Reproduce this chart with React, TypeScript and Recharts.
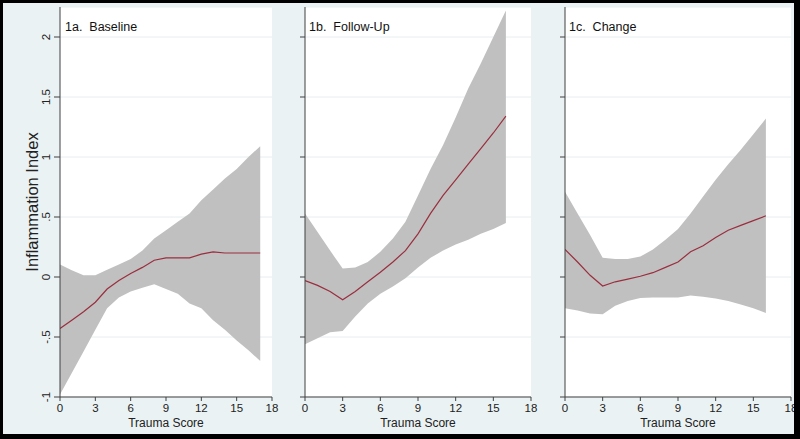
import React from "react";
import { ComposedChart, Area, Line, XAxis, YAxis, CartesianGrid, Label } from "recharts";

const xTicks = [0, 3, 6, 9, 12, 15, 18];
const yTicks = [-1, -0.5, 0, 0.5, 1, 1.5, 2];
const yTickLabels = ["-1", "-.5", "0", ".5", "1", "1.5", "2"];

const baselineX = [0, 1, 2, 3, 4, 5, 6, 7, 8, 9, 10, 11, 12, 13, 14, 15, 16, 17];
const baselineFit = [-0.43, -0.36, -0.29, -0.21, -0.1, -0.03, 0.03, 0.08, 0.14, 0.16, 0.16, 0.16, 0.19, 0.21, 0.2, 0.2, 0.2, 0.2];
const baselineHi = [0.105, 0.056, 0.014, 0.014, 0.06, 0.105, 0.15, 0.22, 0.32, 0.39, 0.46, 0.53, 0.64, 0.73, 0.82, 0.9, 1.0, 1.09];
const baselineLo = [-0.98, -0.8, -0.62, -0.44, -0.26, -0.17, -0.12, -0.09, -0.06, -0.1, -0.14, -0.22, -0.26, -0.36, -0.44, -0.53, -0.61, -0.7];

const followX = [0, 1, 2, 3, 4, 5, 6, 7, 8, 9, 10, 11, 12, 13, 14, 15, 16];
const followFit = [-0.03, -0.07, -0.12, -0.19, -0.12, -0.04, 0.04, 0.125, 0.22, 0.36, 0.53, 0.68, 0.81, 0.94, 1.07, 1.2, 1.34];
const followHi = [0.53, 0.375, 0.22, 0.07, 0.08, 0.125, 0.21, 0.32, 0.46, 0.68, 0.9, 1.1, 1.33, 1.57, 1.78, 2.0, 2.22];
const followLo = [-0.56, -0.51, -0.46, -0.45, -0.33, -0.22, -0.14, -0.08, -0.01, 0.08, 0.16, 0.22, 0.27, 0.31, 0.36, 0.4, 0.45];

const changeX = [0, 1, 2, 3, 4, 5, 6, 7, 8, 9, 10, 11, 12, 13, 14, 15, 16];
const changeFit = [0.23, 0.125, 0.014, -0.075, -0.04, -0.017, 0.006, 0.036, 0.08, 0.125, 0.21, 0.26, 0.33, 0.39, 0.43, 0.47, 0.51];
const changeHi = [0.71, 0.53, 0.35, 0.16, 0.15, 0.15, 0.17, 0.23, 0.31, 0.4, 0.53, 0.67, 0.81, 0.94, 1.06, 1.19, 1.32];
const changeLo = [-0.26, -0.28, -0.305, -0.31, -0.24, -0.2, -0.175, -0.17, -0.17, -0.17, -0.155, -0.165, -0.18, -0.2, -0.23, -0.26, -0.3];

const panelTitles = ["1a.\u00a0 Baseline", "1b.\u00a0 Follow-Up", "1c.\u00a0 Change"];
const xTitle = "Trauma Score";
const yTitle = "Inflammation Index";

const FONT = "'Liberation Sans', Arial, Helvetica, sans-serif";
const BG = "#eaf2f3";
const AXIS = "#404040";

function build(xs: number[], fit: number[], lo: number[], hi: number[]) {
  return xs.map((x, i) => ({ x, fit: fit[i], lo: lo[i], hi: hi[i] }));
}

const panels = [
  { data: build(baselineX, baselineFit, baselineLo, baselineHi), left: 0, width: 280, yw: 60, mr: 8, labels: true, titleX: 65 },
  { data: build(followX, followFit, followLo, followHi), left: 273, width: 265, yw: 32, mr: 7, labels: false, titleX: 309 },
  { data: build(changeX, changeFit, changeLo, changeHi), left: 533, width: 265, yw: 32, mr: 7, labels: false, titleX: 569 },
];

const RotTick = (props: any) => {
  const { x, y, payload } = props;
  const idx = yTicks.indexOf(payload.value);
  const txt = idx >= 0 ? yTickLabels[idx] : String(payload.value);
  const cx = x - 6.5;
  return (
    <text x={cx} y={y} transform={`rotate(-90, ${cx}, ${y})`} textAnchor="middle" dominantBaseline="central"
      fontSize={11.5} fontFamily={FONT} fill="#222">
      {txt}
    </text>
  );
};

const EmptyTick = () => <g />;

const XTick = (props: any) => {
  const { x, y, payload } = props;
  return (
    <text x={x} y={y + 8.5} textAnchor="middle" fontSize={11.5} fontFamily={FONT} fill="#222">
      {payload.value}
    </text>
  );
};

const XTitle = (props: any) => {
  const vb = props.viewBox || {};
  return (
    <text x={vb.x + vb.width / 2} y={427} textAnchor="middle" fontSize={12} fontFamily={FONT} fill="#222">
      {xTitle}
    </text>
  );
};

const YTitle = (props: any) => {
  const vb = props.viewBox || {};
  const cx = 31.5;
  const cy = vb.y + vb.height / 2;
  return (
    <text x={cx} y={cy} transform={`rotate(-90, ${cx}, ${cy})`} textAnchor="middle" dominantBaseline="central"
      fontSize={16.5} fontFamily={FONT} fill="#222">
      {yTitle}
    </text>
  );
};

export default function App() {
  return (
    <div style={{ position: "absolute", left: 0, top: 0, width: 800, height: 439, background: BG, overflow: "hidden" }}>
      {panels.map((p, i) => (
        <div key={i} style={{ position: "absolute", left: p.left, top: 0, width: p.width, height: 439 }}>
          <ComposedChart width={p.width} height={439} data={p.data} margin={{ top: 7, right: p.mr, bottom: 0, left: 0 }}>
            <CartesianGrid horizontal={true} vertical={false} fill="#ffffff" stroke="#e6eef0" strokeWidth={1} />
            <XAxis type="number" dataKey="x" domain={[0, 18]} ticks={xTicks} interval={0} height={42}
              stroke={AXIS} tickSize={4} tickLine={{ stroke: AXIS }} tick={<XTick />} allowDataOverflow>
              <Label content={<XTitle />} />
            </XAxis>
            <YAxis type="number" domain={[-1, 2.25]} ticks={yTicks} interval={0} width={p.yw}
              stroke={AXIS} tickSize={p.labels ? 6 : 5} tickLine={{ stroke: AXIS }}
              tick={p.labels ? <RotTick /> : <EmptyTick />} allowDataOverflow>
              {p.labels ? <Label content={<YTitle />} /> : null}
            </YAxis>
            <Area type="linear" dataKey={(d: any) => [d.lo, d.hi]} fill="#c0c0c0" fillOpacity={1} stroke="none"
              isAnimationActive={false} dot={false} activeDot={false} />
            <Line type="linear" dataKey="fit" stroke="#9a2e3e" strokeWidth={1.2} dot={false} activeDot={false}
              isAnimationActive={false} />
          </ComposedChart>
        </div>
      ))}
      {panels.map((p, i) => (
        <div key={"t" + i} style={{ position: "absolute", left: p.titleX, top: 21, fontSize: 12.5, lineHeight: "12.5px",
          fontFamily: FONT, color: "#111", whiteSpace: "nowrap" }}>
          {panelTitles[i]}
        </div>
      ))}
      <div style={{ position: "absolute", left: 0, top: 0, width: 800, height: 439, boxSizing: "border-box",
        borderTop: "3px solid #000", borderLeft: "3px solid #000", borderRight: "6px solid #000", borderBottom: "5px solid #000",
        pointerEvents: "none" }} />
    </div>
  );
}
